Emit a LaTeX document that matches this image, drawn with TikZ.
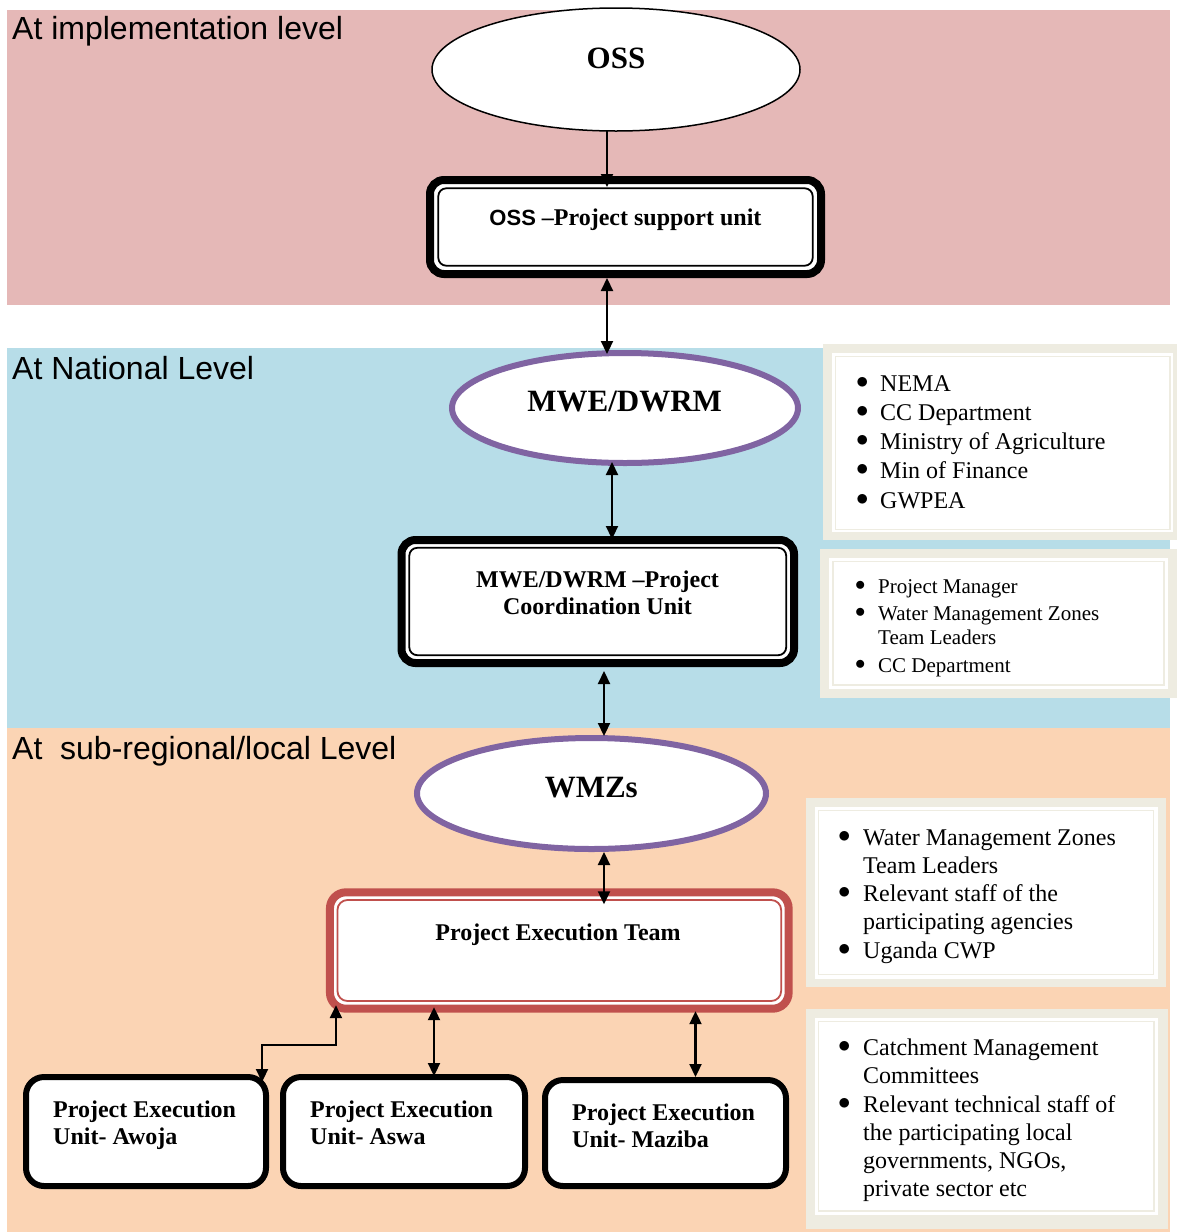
\documentclass[tikz,border=0pt]{standalone}
\usepackage{fontspec}
\setmainfont{Liberation Serif}
\newfontfamily\arialf{Liberation Sans}
\usetikzlibrary{arrows.meta,shapes.geometric,calc}
\definecolor{bandpink}{HTML}{E5B8B7}
\definecolor{bandblue}{HTML}{B7DDE8}
\definecolor{bandpeach}{HTML}{FBD4B4}
\definecolor{ellpurple}{HTML}{8064A2}
\definecolor{petred}{HTML}{C0504D}
\definecolor{framebeige}{HTML}{EEECE1}
\newcommand{\mybul}{\raisebox{3pt}{$\bullet$}}
\begin{document}
\begin{tikzpicture}[x=1pt,y=-1pt,
  lvl/.style={font=\arialf\fontsize{32}{36}\selectfont, inner sep=0pt, anchor=base west},
  elltext/.style={font=\bfseries\fontsize{31}{36}\selectfont, inner sep=0pt, anchor=base},
  boxtext/.style={font=\bfseries\fontsize{24}{27}\selectfont, inner sep=0pt},
  plainell/.style={ellipse, draw=black, line width=1.5pt, fill=white, inner sep=0pt, outer sep=0pt},
  purpell/.style={ellipse, draw=ellpurple, line width=6pt, fill=white, inner sep=0pt, outer sep=0pt},
  thickbox/.style={rectangle, draw=black, line width=8pt, fill=white, rounded corners=14pt, inner sep=0pt, outer sep=0pt},
  redbox/.style={rectangle, draw=petred, line width=8pt, fill=white, rounded corners=16pt, inner sep=0pt, outer sep=0pt},
  unitbox/.style={rectangle, draw=black, line width=6pt, fill=white, rounded corners=18pt, inner sep=0pt, outer sep=0pt},
  innerline/.style={draw=black, line width=1.8pt, rounded corners=8pt},
  innerred/.style={draw=petred, line width=1.8pt, rounded corners=10pt},
  listtext/.style={inner sep=0pt, anchor=base west},
  arrD/.style={line width=2.2pt, {Triangle[width=12pt,length=13pt]}-{Triangle[width=12pt,length=13pt]}},
  arrS/.style={line width=2.2pt, -{Triangle[width=12pt,length=13pt]}}
]
\useasboundingbox (0,0) rectangle (1176,1232);
% bands
\fill[white] (0,0) rectangle (1176,1232);
\fill[bandpink] (7,10) rectangle (1170,305);
\fill[bandblue] (7,348) rectangle (1170,728);
\fill[bandpeach] (7,728) rectangle (1170,1232);

% level labels
\node[lvl] (lvlimpl) at (12,39.5) {At implementation level};
\node[lvl] (lvlnat) at (12,379) {At National Level};
\node[lvl] (lvlsub) at (12,759) {At\ \ sub-regional/local Level};

% ellipses
\node[plainell, minimum width=368pt, minimum height=123pt] (oss) at (616,69.5) {};
\node[elltext] (osst) at (616,68) {OSS};
\node[purpell, minimum width=346pt, minimum height=110pt] (mwe) at (625,408) {};
\node[elltext] (mwet) at (624.7,411) {MWE/DWRM};
\node[purpell, minimum width=349pt, minimum height=111pt] (wmz) at (591.5,793.5) {};
\node[elltext] (wmzt) at (591.3,797) {WMZs};

% PSU box
\node[thickbox, minimum width=391pt, minimum height=94pt] (psu) at (625.5,227) {};
\draw[innerline] ($(psu.north west)+(8.3,8.3)$) rectangle ($(psu.south east)+(-8.3,-8.3)$);
\node[boxtext, anchor=base] (psut) at (625.5,225) {{\arialf\fontsize{22}{26}\selectfont OSS} –Project support unit};

% PCU box
\node[thickbox, minimum width=392.5pt, minimum height=123pt] (pcu) at (597.75,601.5) {};
\draw[innerline] ($(pcu.north west)+(7.8,7.8)$) rectangle ($(pcu.south east)+(-7.8,-7.8)$);
\node[boxtext, anchor=base] (pcut) at (597.5,587.3) {\begin{tabular}[t]{@{}c@{}}MWE/DWRM –Project\\Coordination Unit\end{tabular}};

% PET box
\node[redbox, minimum width=458.7pt, minimum height=116.4pt] (pet) at (559.3,950.5) {};
\draw[innerred] ($(pet.north west)+(7.5,7.7)$) rectangle ($(pet.south east)+(-7.5,-7.7)$);
\node[boxtext, anchor=base] (pett) at (558,940) {Project Execution Team};

% unit boxes
\node[unitbox, minimum width=240pt, minimum height=109pt] (awoja) at (146,1131.5) {};
\node[boxtext, anchor=base west] (awojat) at (53,1117) {\begin{tabular}[t]{@{}l@{}}Project Execution\\Unit- Awoja\end{tabular}};
\node[unitbox, minimum width=242pt, minimum height=109pt] (aswa) at (404,1131.5) {};
\node[boxtext, anchor=base west] (aswat) at (310,1117) {\begin{tabular}[t]{@{}l@{}}Project Execution\\Unit- Aswa\end{tabular}};
\node[unitbox, minimum width=241pt, minimum height=106pt] (maziba) at (665.5,1133) {};
\node[boxtext, anchor=base west] (mazibat) at (572,1120) {\begin{tabular}[t]{@{}l@{}}Project Execution\\Unit- Maziba\end{tabular}};

% right-hand frames
% frame 1
\fill[framebeige] (823,344) rectangle (1182,540);
\fill[white] (832,353) rectangle (1173,532);
\draw[framebeige, line width=1.8pt] (835.5,356.5) rectangle (1170,529.5);
\node[listtext] (list1) at (856,391) {\fontsize{24}{29.3}\selectfont\begin{tabular}[t]{@{}p{24pt}@{}l@{}}
\mybul & NEMA\\
\mybul & CC Department\\
\mybul & Ministry of Agriculture\\
\mybul & Min of Finance\\
\mybul & GWPEA
\end{tabular}};
% frame 2
\fill[framebeige] (820,549) rectangle (1178,698);
\fill[white] (829,557.5) rectangle (1168,689);
\draw[framebeige, line width=1.8pt] (833,561.5) rectangle (1164,685);
\node[listtext] (list2) at (855,593.3) {\fontsize{21}{24}\selectfont\begin{tabular}[t]{@{}p{23pt}@{}l@{}}
\mybul & Project Manager\\[3.4pt]
\mybul & Water Management Zones\\
 & Team Leaders\\[3.4pt]
\mybul & CC Department
\end{tabular}};
% frame 3
\fill[framebeige] (806,798) rectangle (1166,987);
\fill[white] (814.5,806.5) rectangle (1157.5,978.5);
\draw[framebeige, line width=1.8pt] (818.5,810.5) rectangle (1153.5,974.5);
\node[listtext] (list3) at (838,845) {\fontsize{24}{28.3}\selectfont\begin{tabular}[t]{@{}p{25pt}@{}l@{}}
\mybul & Water Management Zones\\
 & Team Leaders\\
\mybul & Relevant staff of the\\
 & participating agencies\\
\mybul & Uganda CWP
\end{tabular}};
% frame 4
\fill[framebeige] (806,1009) rectangle (1168,1229);
\fill[white] (814.5,1017.5) rectangle (1158,1215);
\draw[framebeige, line width=1.8pt] (818.5,1021.5) rectangle (1154,1211);
\node[listtext] (list4) at (838,1055.7) {\fontsize{24}{28.2}\selectfont\begin{tabular}[t]{@{}p{25pt}@{}l@{}}
\mybul & Catchment Management\\
 & Committees\\
\mybul & Relevant technical staff of\\
 & the participating local\\
 & governments, NGOs,\\
 & private sector etc
\end{tabular}};

% connectors
\draw[arrS] ([shift={(-9,0)}]oss.south) -- ([shift={(-18.5,7)}]psu.north);
\draw[arrD] ([shift={(-18.5,4)}]psu.south) -- ([shift={(-18,1)}]mwe.north);
\draw[arrD] ([shift={(-13,-1)}]mwe.south) -- ([shift={(14.25,-1)}]pcu.north);
\draw[arrD] ([shift={(6.25,8)}]pcu.south) -- ([shift={(12.5,-2)}]wmz.north);
\draw[arrD] ([shift={(12.5,3)}]wmz.south) -- ([shift={(44.7,12)}]pet.north);
\draw[arrD] ([shift={(6,-3.5)}]pet.south west) -- ++(0,40) -| ([shift={(116,5)}]awoja.north);
\draw[arrD] ([shift={(-125.3,-1.5)}]pet.south) -- ([shift={(30,-1)}]aswa.north);
\draw[arrD] ([shift={(136.2,2.5)}]pet.south) -- ([shift={(30,-3)}]maziba.north);
\end{tikzpicture}
\end{document}
